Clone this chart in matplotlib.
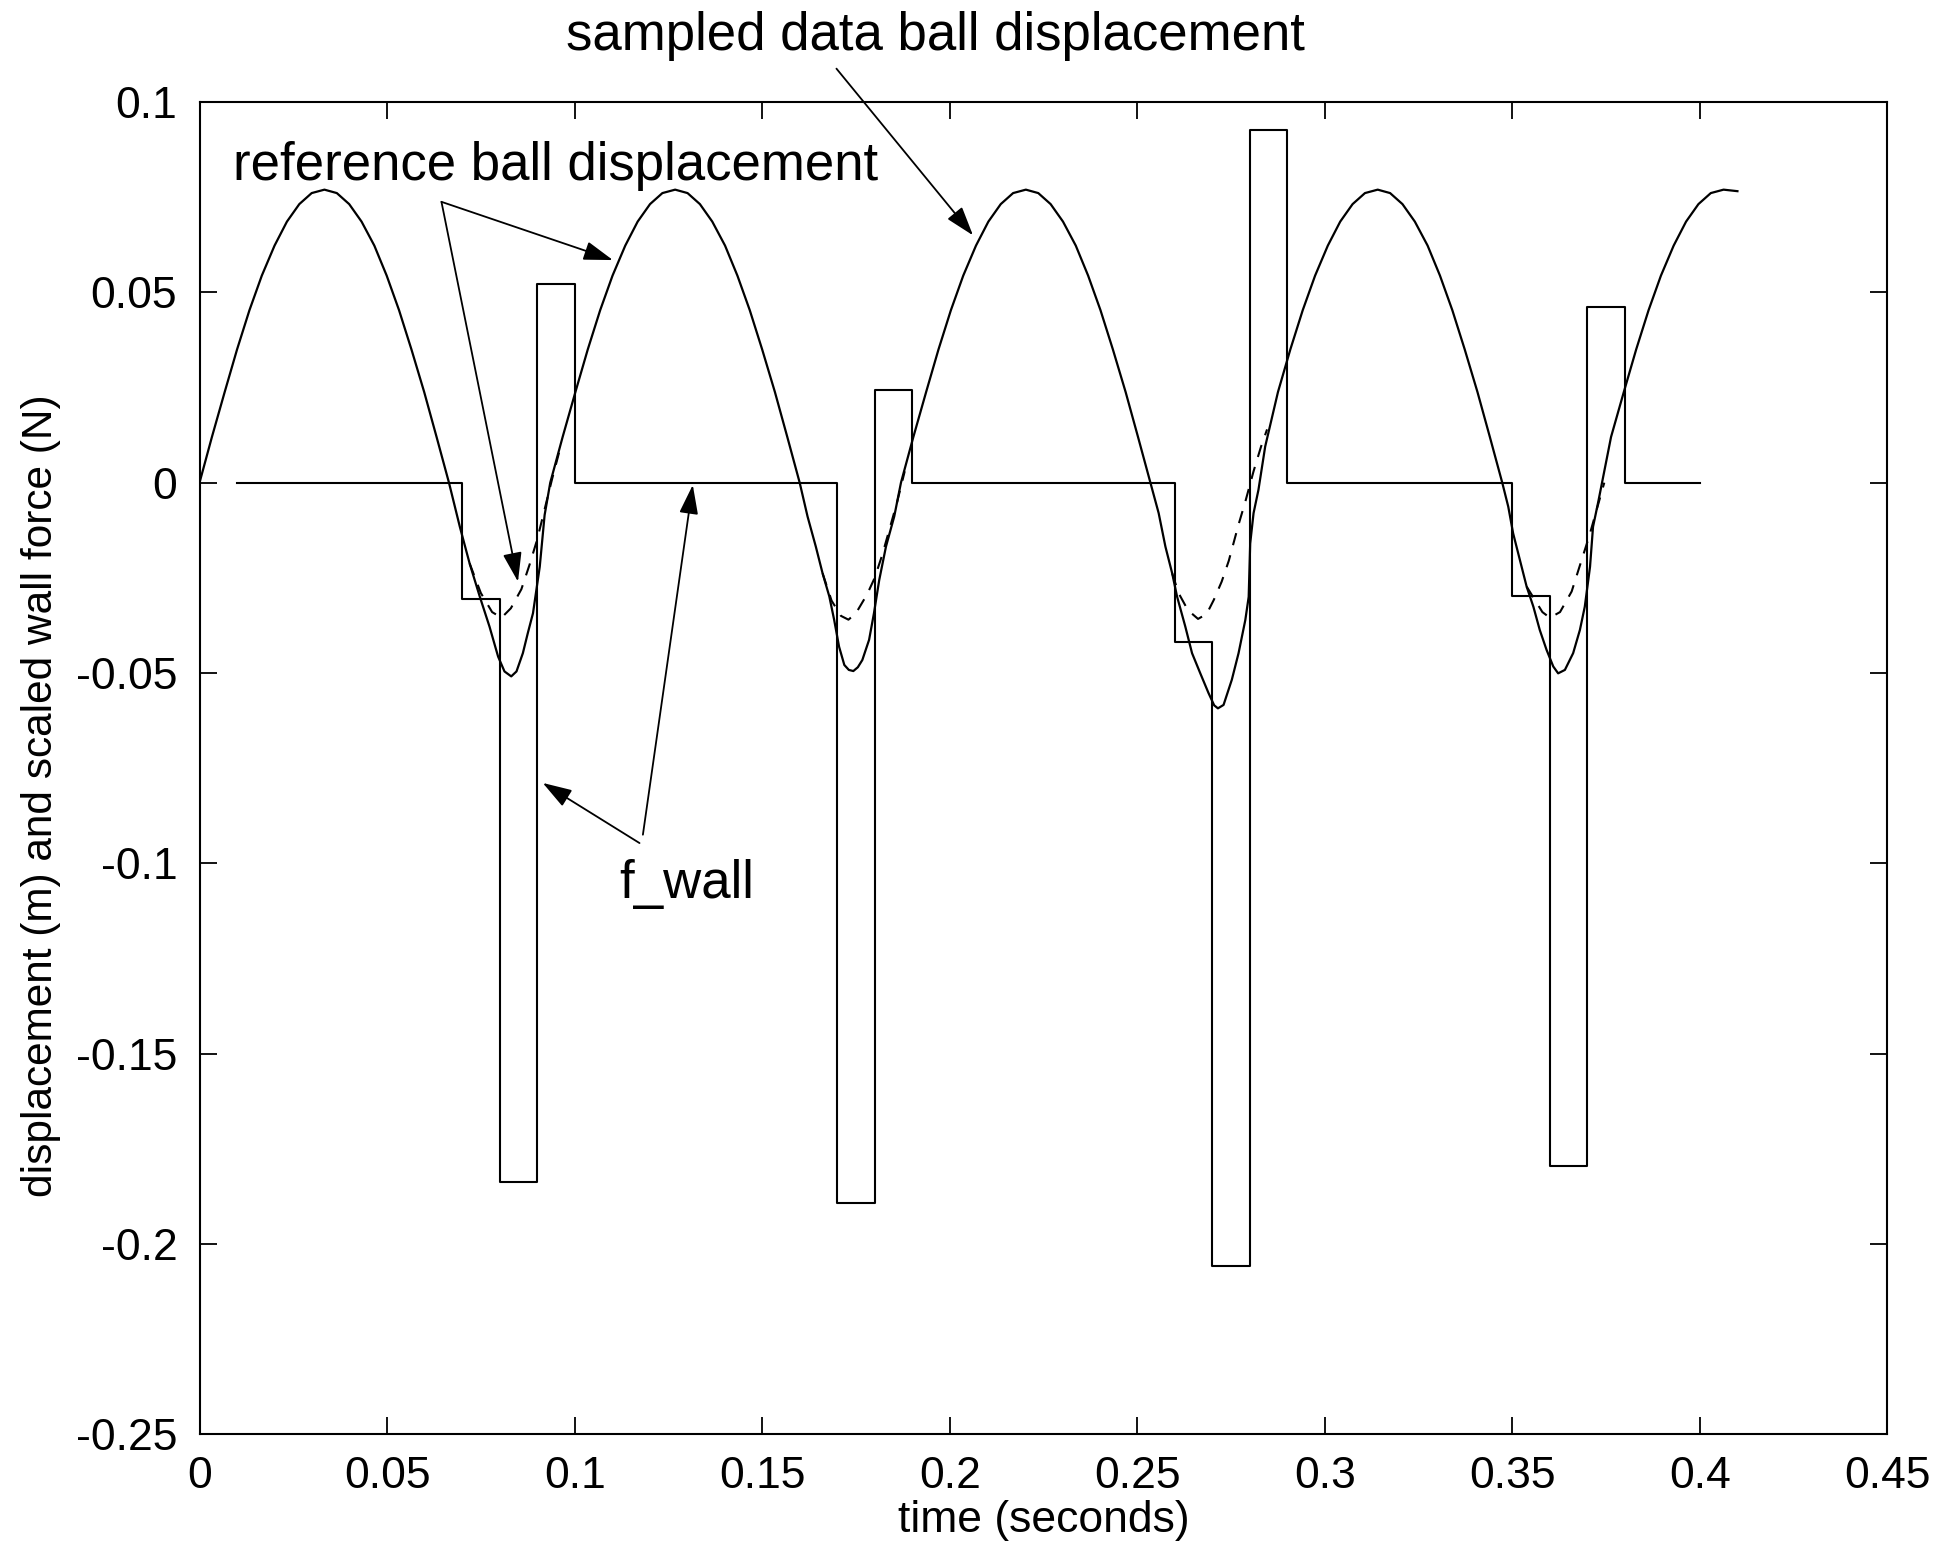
import numpy as np
import matplotlib
matplotlib.use('Agg')
import matplotlib.pyplot as plt

plt.rcParams['font.family'] = ['Liberation Sans', 'DejaVu Sans']
plt.rcParams['axes.unicode_minus'] = False

# ------------------------------------------------------------
# sampled data ball displacement (m), read off the plot
# ------------------------------------------------------------
sampled_t = [
    # flight 1
    0.0, 0.0033, 0.0067, 0.0100, 0.0133, 0.0166, 0.0200, 0.0233, 0.0266, 0.0299,
    0.0333, 0.0366, 0.0399, 0.0432, 0.0466, 0.0499, 0.0532, 0.0565, 0.0599, 0.0632, 0.0665,
    # contact 1
    0.0694, 0.0720, 0.0747, 0.0773, 0.0796, 0.0813, 0.0831, 0.0845, 0.0862, 0.0875,
    0.0889, 0.0907, 0.0920,
    # flight 2
    0.0935, 0.0968, 0.1002, 0.1035, 0.1068, 0.1101, 0.1135, 0.1168, 0.1201, 0.1234,
    0.1268, 0.1301, 0.1334, 0.1367, 0.1401, 0.1434, 0.1467, 0.1500, 0.1534, 0.1567, 0.1600,
    # contact 2
    0.1621, 0.1643, 0.1661, 0.1679, 0.1692, 0.1705, 0.1719, 0.1731, 0.1743, 0.1755,
    0.1767, 0.1785, 0.1798, 0.1812, 0.1830, 0.1852,
    # flight 3
    0.1870, 0.1903, 0.1937, 0.1970, 0.2003, 0.2036, 0.2070, 0.2103, 0.2136, 0.2169,
    0.2203, 0.2236, 0.2269, 0.2302, 0.2336, 0.2369, 0.2402, 0.2435, 0.2469, 0.2502, 0.2535,
    # contact 3
    0.2557, 0.2575, 0.2593, 0.2606, 0.2628, 0.2646, 0.2668, 0.2690, 0.2705, 0.2715,
    0.2730, 0.2752, 0.2770, 0.2788, 0.2797, 0.2801, 0.2810, 0.2823, 0.2841,
    # flight 4
    0.2875, 0.2908, 0.2941, 0.2974, 0.3008, 0.3041, 0.3074, 0.3107,
    0.3141, 0.3174, 0.3207, 0.3240, 0.3274, 0.3307, 0.3340, 0.3373, 0.3407, 0.3440, 0.3473,
    # contact 4
    0.3489, 0.3502, 0.3520, 0.3538, 0.3556, 0.3573, 0.3591, 0.3609, 0.3622, 0.3640,
    0.3662, 0.3680, 0.3693, 0.3707, 0.3715, 0.3729, 0.3745,
    # flight 5
    0.3763, 0.3797, 0.3830, 0.3863, 0.3896, 0.3930, 0.3963, 0.3996, 0.4029, 0.4063, 0.4100,
]
sampled_x = [
    # flight 1
    0.0, 0.0120, 0.0238, 0.0350, 0.0453, 0.0544, 0.0623, 0.0686, 0.0732, 0.0761,
    0.0770, 0.0761, 0.0732, 0.0686, 0.0623, 0.0544, 0.0453, 0.0350, 0.0238, 0.0120, 0.0,
    # contact 1
    -0.0116, -0.0212, -0.0299, -0.0378, -0.0457, -0.0496, -0.0509, -0.0496, -0.0448, -0.0396,
    -0.0343, -0.0221, -0.0085,
    # flight 2
    0.0, 0.0120, 0.0238, 0.0350, 0.0453, 0.0544, 0.0623, 0.0686, 0.0732, 0.0761,
    0.0770, 0.0761, 0.0732, 0.0686, 0.0623, 0.0544, 0.0453, 0.0350, 0.0238, 0.0120, 0.0,
    # contact 2
    -0.0089, -0.0168, -0.0238, -0.0299, -0.0361, -0.0431, -0.0479, -0.0492, -0.0495, -0.0485,
    -0.0466, -0.0413, -0.0343, -0.0256, -0.0168, -0.0089,
    # flight 3
    0.0, 0.0120, 0.0238, 0.0350, 0.0453, 0.0544, 0.0623, 0.0686, 0.0732, 0.0761,
    0.0770, 0.0761, 0.0732, 0.0686, 0.0623, 0.0544, 0.0453, 0.0350, 0.0238, 0.0120, 0.0,
    # contact 3
    -0.0080, -0.0168, -0.0238, -0.0299, -0.0378, -0.0448, -0.0501, -0.0553, -0.0585, -0.0593,
    -0.0584, -0.0518, -0.0448, -0.0361, -0.0300, -0.0160, -0.0080, -0.0019, 0.0095,
    # flight 4
    0.0238, 0.0350, 0.0453, 0.0544, 0.0623, 0.0686, 0.0732, 0.0761,
    0.0770, 0.0761, 0.0732, 0.0686, 0.0623, 0.0544, 0.0453, 0.0350, 0.0238, 0.0120, 0.0,
    # contact 4
    -0.0063, -0.0133, -0.0203, -0.0273, -0.0326, -0.0387, -0.0439, -0.0483, -0.0501, -0.0492,
    -0.0448, -0.0387, -0.0326, -0.0221, -0.0116, -0.0050, 0.0030,
    # flight 5
    0.0120, 0.0238, 0.0350, 0.0453, 0.0544, 0.0623, 0.0686, 0.0732, 0.0761, 0.0770, 0.0766,
]

# reference ball displacement: same as sampled in flight, only differs in contact
ref1_t = [0.0720, 0.0750, 0.0780, 0.0805, 0.0830, 0.0858, 0.0880, 0.0900, 0.0920, 0.0940, 0.0960]
ref1_x = [-0.0212, -0.0290, -0.0340, -0.0355, -0.0330, -0.0280, -0.0215, -0.0150, -0.0070, 0.0010, 0.0085]
ref2_t = [0.1661, 0.1685, 0.1710, 0.1730, 0.1750, 0.1780, 0.1800, 0.1820, 0.1840, 0.1860, 0.1880]
ref2_x = [-0.0238, -0.0310, -0.0350, -0.0360, -0.0343, -0.0293, -0.0250, -0.0190, -0.0120, -0.0050, 0.0030]
ref3_t = [0.2593, 0.2610, 0.2635, 0.2662, 0.2685, 0.2704, 0.2725, 0.2744, 0.2770, 0.2788, 0.2810, 0.2830, 0.2846]
ref3_x = [-0.0238, -0.0290, -0.0335, -0.0358, -0.0345, -0.0308, -0.0260, -0.0205, -0.0110, -0.0050, 0.0030, 0.0095, 0.0140]
ref4_t = [0.3538, 0.3560, 0.3580, 0.3600, 0.3627, 0.3658, 0.3684, 0.3705, 0.3725, 0.3745]
ref4_x = [-0.0273, -0.0308, -0.0340, -0.0355, -0.0340, -0.0286, -0.0205, -0.0140, -0.0070, 0.0000]

# scaled wall force (N), piecewise constant (value holds from each time to the next)
fwall_t = [0.01, 0.07, 0.08, 0.09, 0.10, 0.17, 0.18, 0.19, 0.26, 0.27, 0.28, 0.29,
           0.35, 0.36, 0.37, 0.38, 0.40]
fwall_f = [0.0, -0.0305, -0.1838, 0.0522, 0.0, -0.1894, 0.0244, 0.0, -0.0418, -0.2058, 0.0926, 0.0,
           -0.0297, -0.1796, 0.0462, 0.0, 0.0]

xticks = [0, 0.05, 0.1, 0.15, 0.2, 0.25, 0.3, 0.35, 0.4, 0.45]
xtick_labels = ['0', '0.05', '0.1', '0.15', '0.2', '0.25', '0.3', '0.35', '0.4', '0.45']
yticks = [-0.25, -0.2, -0.15, -0.1, -0.05, 0, 0.05, 0.1]
ytick_labels = ['-0.25', '-0.2', '-0.15', '-0.1', '-0.05', '0', '0.05', '0.1']

# ------------------------------------------------------------
fig = plt.figure(figsize=(19.6, 15.45), dpi=100)
ax = fig.add_axes([0.1018, 0.0718, 0.8612, 0.8621])

ax.step(fwall_t, fwall_f, where='post', color='k', lw=1.5)
for rt, rx in [(ref1_t, ref1_x), (ref2_t, ref2_x), (ref3_t, ref3_x), (ref4_t, ref4_x)]:
    ax.plot(rt, rx, color='k', lw=1.5, linestyle=(0, (6, 5)))
ax.plot(sampled_t, sampled_x, color='k', lw=1.6)

ax.set_xlim(0, 0.45)
ax.set_ylim(-0.25, 0.1)
ax.set_xticks(xticks)
ax.set_xticklabels(xtick_labels)
ax.set_yticks(yticks)
ax.set_yticklabels(ytick_labels)
ax.tick_params(direction='in', length=12.5, width=1.3, top=True, right=True,
               labelsize=32, pad=16)
for sp in ax.spines.values():
    sp.set_linewidth(1.5)

ax.set_xlabel('time (seconds)', fontsize=32, labelpad=2)
ax.set_ylabel('displacement (m) and scaled wall force (N)', fontsize=30.5)
ax.yaxis.set_label_coords(-0.082, 0.479)

# annotations
ap = dict(arrowstyle='-|>,head_length=0.4,head_width=0.13', mutation_scale=45,
          color='k', lw=1.3, shrinkA=0, shrinkB=0)
ax.text(0.0089, 0.0795, 'reference ball displacement', fontsize=38, ha='left', va='baseline')
ax.annotate('', xy=(0.1102, 0.0585), xytext=(0.0645, 0.0738), arrowprops=ap)
ax.annotate('', xy=(0.0849, -0.0260), xytext=(0.0645, 0.0738), arrowprops=ap)

ax.text(0.0976, 0.1136, 'sampled data ball displacement', fontsize=38, ha='left',
        va='baseline', clip_on=False)
ax.annotate('', xy=(0.2062, 0.0650), xytext=(0.1698, 0.1088), arrowprops=ap,
            annotation_clip=False)

ax.text(0.1120, -0.1091, 'f_wall', fontsize=38, ha='left', va='baseline')
ax.annotate('', xy=(0.1315, -0.0006), xytext=(0.1182, -0.0925), arrowprops=ap)
ax.annotate('', xy=(0.0915, -0.0789), xytext=(0.1173, -0.0947), arrowprops=ap)

fig.savefig('out.png', dpi=100, facecolor='white')
